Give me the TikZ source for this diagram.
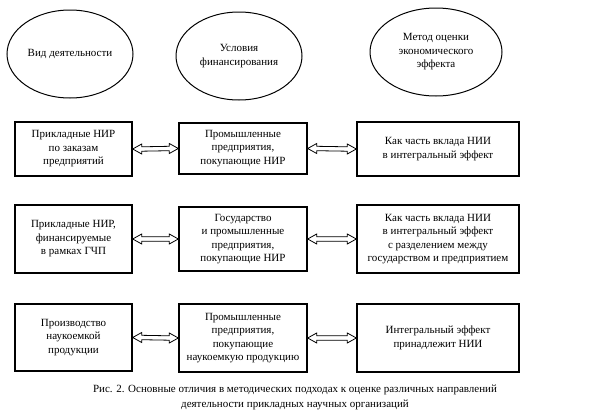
\documentclass[tikz,border=0pt]{standalone}
\usepackage{fontspec}
\setmainfont{Liberation Serif}
\usetikzlibrary{shapes.geometric,calc}
\newcommand{\hollowarrow}[2]{%
  \draw[harrow] (#1) -- ($(#1)+(9,-5)$) -- ($(#1)+(9,-2.2)$) -- ($(#2)+(-9,-2.2)$) -- ($(#2)+(-9,-5)$) -- (#2)
    -- ($(#2)+(-9,5)$) -- ($(#2)+(-9,2.2)$) -- ($(#1)+(9,2.2)$) -- ($(#1)+(9,5)$) -- cycle;}
\begin{document}
\begin{tikzpicture}[x=1pt,y=-1pt,
 ell/.style={draw,ellipse,line width=1pt,inner sep=0pt,align=center,minimum width=126pt,minimum height=88pt,font=\fontsize{11}{13.5}\selectfont},
 box/.style={draw,rectangle,line width=1.4pt,inner sep=0pt,align=center,font=\fontsize{11}{13.5}\selectfont},
 lbox/.style={box,minimum width=117pt},
 mbox/.style={box,minimum width=128pt},
 rbox/.style={box,minimum width=162pt},
 harrow/.style={draw,line width=0.8pt,line join=miter,fill=white}]
\useasboundingbox (0,0) rectangle (595,418);
\node[ell] (e1) at (70,54) {Вид деятельности};
\node[ell] (e2) at (239,56) {Условия\\финансирования};
\node[ell,minimum width=132pt] (e3) at (436,52) {Метод оценки\\экономического\\эффекта};

\node[lbox,minimum height=54pt] (l1) at (73.5,149) {Прикладные НИР\\по заказам\\предприятий};
\node[mbox,minimum height=51pt] (m1) at (243,148.5) {Промышленные\\предприятия,\\покупающие НИР};
\node[rbox,minimum height=54pt] (r1) at (438,149) {Как часть вклада НИИ\\в интегральный эффект};

\node[lbox,minimum height=68pt] (l2) at (73.5,239) {Прикладные НИР,\\финансируемые\\в рамках ГЧП};
\node[mbox,minimum height=64pt] (m2) at (243,239) {Государство\\и промышленные\\предприятия,\\покупающие НИР};
\node[rbox,minimum height=68pt] (r2) at (438,239) {Как часть вклада НИИ\\в интегральный эффект\\с разделением между\\государством и предприятием};

\node[lbox,minimum height=67pt] (l3) at (73.5,337.5) {Производство\\наукоемкой\\продукции};
\node[mbox,minimum height=68pt] (m3) at (243,338) {Промышленные\\предприятия,\\покупающие\\наукоемкую продукцию};
\node[rbox,minimum height=68pt] (r3) at (438,338) {Интегральный эффект\\принадлежит НИИ};

\hollowarrow{l1.east}{m1.west}
\hollowarrow{m1.east}{r1.west}
\hollowarrow{l2.east}{m2.west}
\hollowarrow{m2.east}{r2.west}
\hollowarrow{l3.east}{m3.west}
\hollowarrow{m3.east}{r3.west}

\node[align=center,font=\fontsize{11}{15}\selectfont] (cap) at (295,397.5) {Рис. 2. Основные отличия в методических подходах к оценке различных направлений\\деятельности прикладных научных организаций};
\end{tikzpicture}
\end{document}
